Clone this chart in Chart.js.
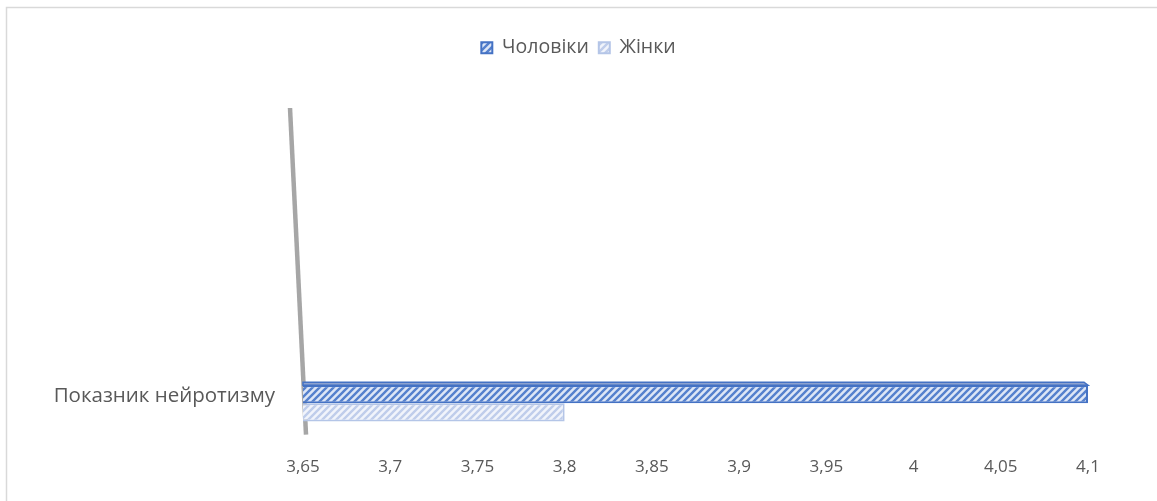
<!DOCTYPE html>
<html>
<head>
<meta charset="utf-8">
<script src="https://cdn.jsdelivr.net/npm/chart.js@4.4.1/dist/chart.umd.min.js"></script>
<style>
  html, body { margin: 0; padding: 0; background: #ffffff; }
  #wrap { width: 1157px; height: 501px; position: relative; }
</style>
</head>
<body>
<div id="wrap"><canvas id="c" width="1157" height="501"></canvas></div>
<script>
const categories = ['Показник нейротизму'];
const seriesNames = ['Чоловіки', 'Жінки'];
const menValues = [4.1];
const womenValues = [3.8];
const axisMin = 3.65;
const axisMax = 4.1;
const axisStep = 0.05;

function makePattern(bg, stripe, width) {
  const s = 7;
  const c = document.createElement('canvas');
  c.width = s; c.height = s;
  const g = c.getContext('2d');
  g.fillStyle = bg;
  g.fillRect(0, 0, s, s);
  g.strokeStyle = stripe;
  g.lineWidth = width;
  g.beginPath();
  g.moveTo(-1, s + 1); g.lineTo(s + 1, -1);
  g.moveTo(-2, 2); g.lineTo(2, -2);
  g.moveTo(s - 2, s + 2); g.lineTo(s + 2, s - 2);
  g.stroke();
  return document.getElementById('c').getContext('2d').createPattern(c, 'repeat');
}

const menPattern = makePattern('#dde6f6', '#5580cd', 2.4);
const womenPattern = makePattern('#f1f4fb', '#bfcdeb', 2.4);

const frame = {
  id: 'frame',
  afterLayout(chart) {
    const lg = chart.legend;
    if (lg) {
      lg.left = 0; lg.right = chart.width; lg.width = chart.width;
      if (lg.adjustHitBoxes) lg.adjustHitBoxes();
    }
  },
  beforeDraw(chart) {
    const ctx = chart.ctx;
    ctx.save();
    ctx.strokeStyle = '#d9d9d9';
    ctx.lineWidth = 1.5;
    ctx.beginPath();
    ctx.moveTo(6.5, 501); ctx.lineTo(6.5, 7.5); ctx.lineTo(1157, 7.5);
    ctx.stroke();
    // slanted 3D wall axis line
    const a = chart.chartArea;
    ctx.strokeStyle = '#a6a6a6';
    ctx.lineWidth = 4.5;
    ctx.beginPath();
    ctx.moveTo(a.left - 13, 108);
    ctx.lineTo(a.left + 3, a.bottom + 2);
    ctx.stroke();
    ctx.restore();
  },
  afterDatasetsDraw(chart) {
    const meta = chart.getDatasetMeta(0);
    const el = meta.data[0];
    if (!el) return;
    const ctx = chart.ctx;
    const top = el.y - el.height / 2;
    const left = Math.max(chart.chartArea.left, Math.min(el.base, el.x));
    const right = Math.max(el.base, el.x);
    ctx.save();
    ctx.fillStyle = '#8da2cf';
    ctx.strokeStyle = '#4472c4';
    ctx.lineWidth = 1.5;
    ctx.beginPath();
    ctx.moveTo(left, top);
    ctx.lineTo(left, top - 3);
    ctx.lineTo(right - 4, top - 3);
    ctx.lineTo(right, top);
    ctx.closePath();
    ctx.fill();
    ctx.stroke();
    ctx.restore();
  }
};

const legendSpace = {
  id: 'legendSpace',
  beforeInit(chart) {
    const orig = chart.legend.fit;
    chart.legend.fit = function () {
      orig.bind(chart.legend)();
      this.height = 346;
    };
  }
};

new Chart(document.getElementById('c'), {
  type: 'bar',
  data: {
    labels: categories,
    datasets: [
      {
        label: seriesNames[0],
        data: menValues,
        base: axisMin,
        backgroundColor: menPattern,
        borderColor: '#4472c4',
        borderWidth: 2,
        categoryPercentage: 0.62,
        barPercentage: 1.0
      },
      {
        label: seriesNames[1],
        data: womenValues,
        base: axisMin,
        backgroundColor: womenPattern,
        borderColor: '#b4c5e7',
        borderWidth: 2,
        categoryPercentage: 0.62,
        barPercentage: 1.0
      }
    ]
  },
  options: {
    indexAxis: 'y',
    responsive: false,
    animation: false,
    layout: { padding: { top: 28, right: 69, bottom: 0, left: 0 } },
    scales: {
      x: {
        min: axisMin,
        max: axisMax,
        grid: { display: false, drawTicks: false },
        border: { display: false },
        ticks: {
          stepSize: axisStep,
          padding: 24,
          color: '#595959',
          font: { family: 'Open Sans', size: 17 },
          callback: v => Number(v.toFixed(2)).toString().replace('.', ',')
        }
      },
      y: {
        grid: { display: false, drawTicks: false },
        border: { display: false },
        afterFit(s) { s.width = 303; },
        ticks: {
          padding: 28,
          labelOffset: -7,
          color: '#595959',
          font: { family: 'Open Sans', size: 20.5 }
        }
      }
    },
    plugins: {
      legend: {
        position: 'top',
        align: 'center',
        labels: {
          boxWidth: 11,
          boxHeight: 11,
          padding: 10,
          color: '#595959',
          font: { family: 'Open Sans', size: 19.5 }
        }
      },
      tooltip: { enabled: false }
    }
  },
  plugins: [frame, legendSpace]
});
</script>
</body>
</html>
